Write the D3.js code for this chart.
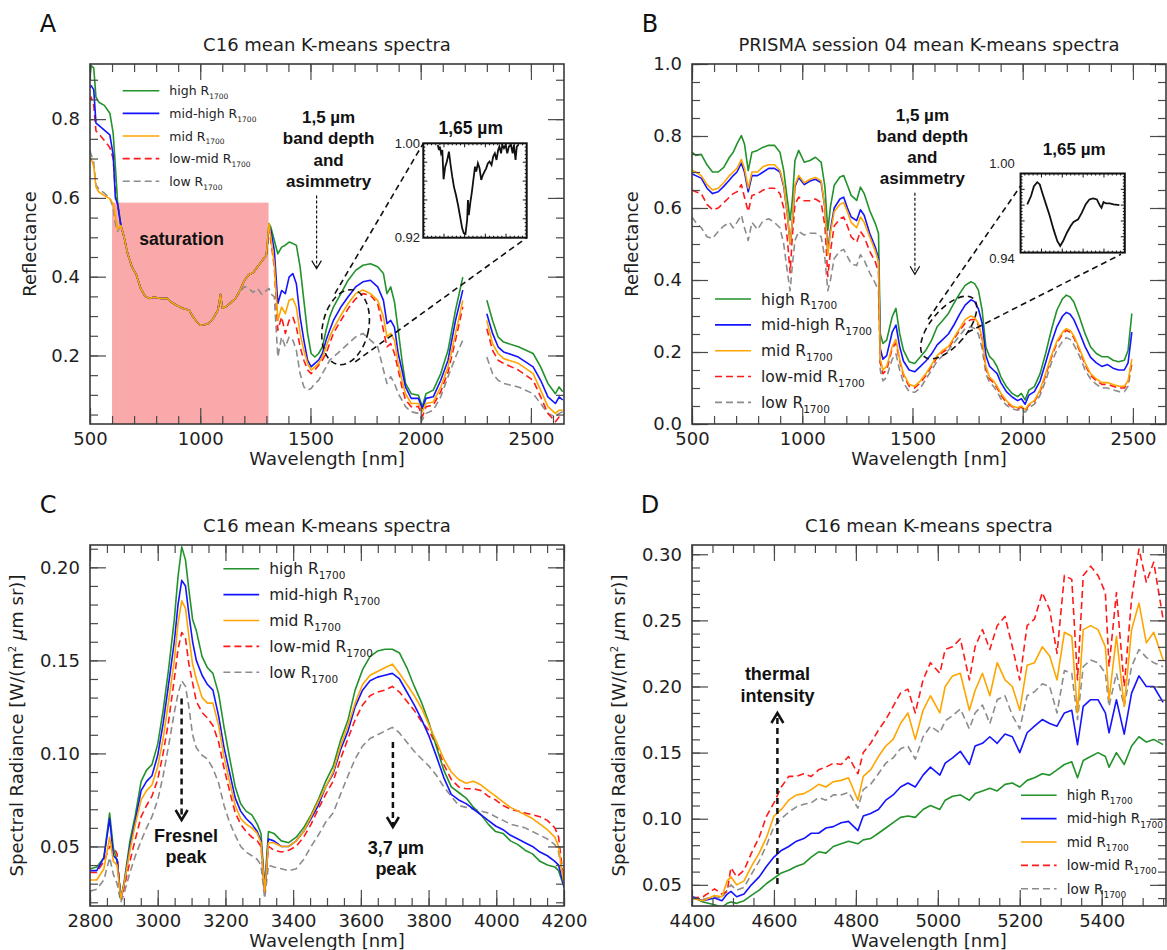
<!DOCTYPE html>
<html>
<head>
<meta charset="utf-8">
<script src="https://cdn.jsdelivr.net/npm/d3@7"></script>
<style>
  body { margin: 0; background: #fff; }
  svg { display: block; }
</style>
</head>
<body>
<svg id="chart" width="1167" height="950"></svg>
<script>

// ---------------- panel A : C16 reflectance ----------------
const wavelengthA = [500,505,517,527,540,565,590,605,615,625,
  640,655,670,690,710,730,750,770,790,820,
  850,870,890,920,950,965,985,1000,1020,1040,
  1060,1080,1092,1100,1120,1140,1160,1180,1200,1220,
  1240,1260,1280,1300,1312,
  1320,1336,1352,1369,1386,1403,1420,1436,1453,1470,
  1487,1503,1520,1537,1554,1571,1587,1604,1638,1671,
  1705,1738,1772,1805,1831,1847,1864,1881,1898,1915,
  1931,1957,1990,2007,2024,2057,2091,2124,2158,2191,
  2250,
  2300,2326,2351,2376,2443,2510,2544,2577,2611,2628,2644];
const highA = [0.906,0.936,0.93,0.856,0.843,0.835,0.815,0.765,0.68,0.59,
  0.53,0.50,0.46,0.425,0.405,0.37,0.35,0.345,0.348,0.345,
  0.345,0.335,0.328,0.32,0.315,0.30,0.285,0.277,0.278,0.282,
  0.295,0.315,0.355,0.32,0.325,0.335,0.345,0.365,0.39,0.405,
  0.41,0.425,0.44,0.455,0.535,
  0.526,0.492,0.458,0.475,0.48,0.488,0.484,0.48,0.425,0.34,
  0.256,0.205,0.196,0.205,0.222,0.264,0.298,0.323,0.357,0.391,
  0.416,0.429,0.433,0.425,0.408,0.357,0.374,0.336,0.264,0.188,
  0.129,0.103,0.099,0.07,0.103,0.112,0.154,0.213,0.315,0.399,
  null,
  0.34,0.289,0.247,0.234,0.222,0.205,0.171,0.129,0.103,0.12,0.108];
const midHighA = [0.88,0.885,0.875,0.79,0.784,0.772,0.76,0.71,0.60,0.585,
  0.53,0.50,0.46,0.425,0.405,0.37,0.35,0.345,0.348,0.345,
  0.345,0.335,0.328,0.32,0.315,0.30,0.285,0.277,0.278,0.282,
  0.295,0.315,0.355,0.32,0.325,0.335,0.345,0.365,0.39,0.405,
  0.41,0.425,0.44,0.455,0.525,
  0.518,0.467,0.332,0.365,0.357,0.399,0.408,0.382,0.298,0.239,
  0.188,0.171,0.18,0.188,0.205,0.239,0.264,0.289,0.323,0.349,
  0.374,0.387,0.391,0.374,0.34,0.281,0.289,0.272,0.205,0.163,
  0.12,0.091,0.091,0.065,0.091,0.095,0.137,0.188,0.289,0.366,
  null,
  0.306,0.256,0.222,0.209,0.196,0.171,0.137,0.095,0.078,0.095,0.087];
const midA = [0.695,0.70,0.68,0.628,0.615,0.606,0.598,0.585,0.555,0.52,
  0.53,0.50,0.46,0.425,0.405,0.37,0.35,0.345,0.348,0.345,
  0.345,0.335,0.328,0.32,0.315,0.30,0.285,0.277,0.278,0.282,
  0.295,0.315,0.355,0.32,0.325,0.335,0.345,0.365,0.39,0.405,
  0.41,0.425,0.44,0.455,0.535,
  0.501,0.433,0.289,0.323,0.306,0.34,0.344,0.323,0.256,0.213,
  0.18,0.163,0.171,0.18,0.196,0.222,0.247,0.268,0.302,0.332,
  0.357,0.366,0.357,0.34,0.298,0.247,0.256,0.239,0.18,0.137,
  0.103,0.078,0.078,0.057,0.078,0.082,0.12,0.171,0.256,0.34,
  null,
  0.289,0.23,0.205,0.192,0.18,0.154,0.112,0.07,0.053,0.061,0.061];
const lowMidA = [0.847,0.856,0.835,0.77,0.763,0.746,0.728,0.70,0.62,0.585,
  0.53,0.50,0.46,0.425,0.405,0.37,0.35,0.345,0.348,0.345,
  0.345,0.335,0.328,0.32,0.315,0.30,0.285,0.277,0.278,0.282,
  0.295,0.315,0.355,0.32,0.325,0.335,0.345,0.365,0.39,0.405,
  0.41,0.425,0.44,0.455,0.52,
  0.492,0.425,0.264,0.298,0.256,0.289,0.298,0.272,0.222,0.188,
  0.163,0.154,0.163,0.175,0.188,0.205,0.23,0.256,0.289,0.319,
  0.344,0.357,0.353,0.332,0.264,0.222,0.23,0.205,0.163,0.12,
  0.087,0.07,0.07,0.044,0.07,0.074,0.108,0.158,0.239,0.323,
  null,
  0.268,0.213,0.188,0.18,0.163,0.137,0.095,0.053,0.032,0.044,0.048];
const lowA = [0.72,0.71,0.69,0.632,0.623,0.612,0.60,0.575,0.535,0.515,
  0.53,0.50,0.46,0.425,0.405,0.37,0.35,0.345,0.348,0.345,
  0.345,0.335,0.328,0.32,0.315,0.30,0.285,0.277,0.278,0.282,
  0.295,0.315,0.355,0.32,0.325,0.335,0.345,0.36,0.375,0.37,
  0.36,0.37,0.355,0.365,0.37,
  0.357,0.349,0.196,0.247,0.222,0.247,0.239,0.213,0.154,0.12,
  0.112,0.116,0.129,0.137,0.154,0.171,0.188,0.196,0.213,0.23,
  0.247,0.256,0.239,0.222,0.163,0.129,0.146,0.129,0.103,0.087,
  0.07,0.057,0.053,0.036,0.053,0.061,0.095,0.146,0.196,0.239,
  null,
  0.196,0.154,0.137,0.129,0.12,0.103,0.078,0.053,0.044,0.053,0.057];

// zoom of the 1,65 um feature (inset of panel A)
const insetWlA = [1585,1588,1590,1593,1596,1599,1603,1607,1612,1616,
  1620,1624,1629,1634,1639,1644,1648,1652,1656,1658,
  1660,1664,1667,1671,1675,1678,1682,1686,1690,1694,
  1698,1702,1706,1710,1715,1719,1723,1727,1731,1734,
  1738,1741,1745,1749,1753,1757,1762,1766,1769,1773,1776,1780];
const insetA = [0.9986,0.9943,0.9972,0.9915,0.9943,0.9695,0.9802,0.9845,0.9929,0.9816,
  0.9717,0.9633,0.9562,0.9477,0.9378,0.9279,0.9237,0.9231,0.9350,0.9519,
  0.9392,0.9505,0.9576,0.9689,0.9802,0.9760,0.9830,0.9788,0.9689,0.9731,
  0.9760,0.9788,0.9830,0.9845,0.9816,0.9887,0.9915,0.9859,0.9943,0.9972,
  0.9915,0.9986,0.9958,0.9986,0.9915,0.9972,0.9986,0.9915,0.9986,0.9859,0.9972,0.9986];

// ---------------- panel B : PRISMA reflectance ----------------
const wavelengthB = [500,517,542,568,593,619,644,670,687,704,
  724,738,755,772,797,823,848,874,899,916,
  933,945,955,967,984,1009,1035,1060,1086,1103,
  1116,1128,1145,1171,1188,1205,1222,1247,1264,1281,
  1306,1332,1346,1354,1366,1383,1408,1425,1442,1459,
  1485,1510,1536,1561,1587,1612,1638,1663,1688,1714,
  1739,1765,1782,1799,1816,1833,1850,1867,1884,1901,
  1926,1952,1977,1994,2011,2028,2053,2079,2104,2130,
  2155,2181,2198,2215,2232,2257,2283,2308,2334,2359,
  2385,2410,2435,2461,2478,2495];
const highB = [0.755,0.746,0.749,0.72,0.70,0.70,0.713,0.741,0.755,0.778,
  0.801,0.778,0.704,0.755,0.76,0.769,0.774,0.774,0.755,0.704,
  0.621,0.566,0.621,0.732,0.76,0.727,0.732,0.741,0.727,0.658,
  0.538,0.603,0.663,0.686,0.69,0.663,0.635,0.621,0.658,0.64,
  0.593,0.556,0.529,0.251,0.224,0.233,0.298,0.321,0.251,0.205,
  0.173,0.168,0.187,0.205,0.233,0.27,0.288,0.307,0.335,0.362,
  0.385,0.395,0.39,0.372,0.316,0.214,0.187,0.177,0.159,0.131,
  0.104,0.085,0.076,0.085,0.067,0.094,0.104,0.14,0.196,0.261,
  0.316,0.348,0.358,0.353,0.339,0.298,0.251,0.214,0.196,0.187,
  0.187,0.177,0.173,0.177,0.205,0.307];
const midHighB = [0.695,0.69,0.683,0.655,0.64,0.645,0.66,0.678,0.69,0.70,
  0.725,0.70,0.645,0.69,0.69,0.70,0.71,0.71,0.70,0.66,
  0.58,0.50,0.56,0.66,0.685,0.665,0.675,0.68,0.67,0.60,
  0.48,0.54,0.60,0.625,0.63,0.60,0.575,0.565,0.595,0.58,
  0.53,0.49,0.46,0.21,0.18,0.19,0.255,0.275,0.215,0.175,
  0.15,0.145,0.16,0.175,0.195,0.22,0.235,0.25,0.275,0.305,
  0.33,0.345,0.34,0.32,0.28,0.19,0.16,0.15,0.14,0.115,
  0.09,0.075,0.065,0.07,0.055,0.08,0.09,0.12,0.17,0.225,
  0.27,0.30,0.31,0.305,0.29,0.255,0.215,0.185,0.17,0.16,
  0.165,0.155,0.15,0.15,0.17,0.255];
const midB = [0.705,0.70,0.69,0.665,0.65,0.655,0.67,0.69,0.70,0.71,
  0.735,0.71,0.655,0.70,0.70,0.715,0.72,0.72,0.705,0.665,
  0.58,0.50,0.56,0.665,0.69,0.67,0.68,0.685,0.675,0.60,
  0.47,0.53,0.59,0.61,0.615,0.59,0.56,0.545,0.575,0.56,
  0.52,0.48,0.45,0.18,0.15,0.16,0.215,0.235,0.18,0.14,
  0.11,0.105,0.12,0.14,0.165,0.19,0.205,0.215,0.24,0.265,
  0.29,0.30,0.295,0.28,0.24,0.16,0.13,0.12,0.105,0.085,
  0.065,0.05,0.045,0.05,0.04,0.055,0.065,0.095,0.14,0.19,
  0.23,0.255,0.265,0.26,0.245,0.21,0.17,0.14,0.125,0.115,
  0.115,0.11,0.105,0.105,0.12,0.18];
const lowMidB = [0.65,0.645,0.64,0.61,0.595,0.60,0.615,0.63,0.64,0.645,
  0.665,0.63,0.59,0.635,0.64,0.65,0.655,0.655,0.64,0.60,
  0.51,0.42,0.52,0.61,0.63,0.62,0.62,0.625,0.615,0.55,
  0.41,0.48,0.55,0.57,0.575,0.55,0.52,0.505,0.535,0.52,
  0.48,0.45,0.42,0.17,0.14,0.15,0.21,0.225,0.175,0.135,
  0.105,0.10,0.115,0.135,0.16,0.185,0.20,0.21,0.235,0.26,
  0.28,0.29,0.29,0.275,0.235,0.155,0.125,0.115,0.10,0.08,
  0.06,0.048,0.042,0.047,0.037,0.052,0.062,0.09,0.135,0.185,
  0.225,0.25,0.26,0.255,0.24,0.205,0.165,0.135,0.12,0.11,
  0.11,0.105,0.10,0.10,0.115,0.175];
const lowB = [0.575,0.56,0.545,0.52,0.515,0.535,0.55,0.56,0.545,0.56,
  0.58,0.545,0.51,0.56,0.54,0.565,0.57,0.56,0.545,0.50,
  0.42,0.37,0.44,0.51,0.535,0.525,0.53,0.53,0.52,0.46,
  0.37,0.40,0.46,0.48,0.485,0.465,0.445,0.44,0.47,0.455,
  0.42,0.39,0.37,0.15,0.12,0.13,0.18,0.195,0.15,0.115,
  0.09,0.088,0.10,0.125,0.15,0.175,0.19,0.205,0.225,0.245,
  0.265,0.27,0.265,0.25,0.21,0.14,0.115,0.105,0.09,0.07,
  0.052,0.042,0.038,0.042,0.033,0.045,0.055,0.08,0.12,0.17,
  0.205,0.23,0.24,0.235,0.22,0.19,0.15,0.125,0.11,0.10,
  0.10,0.095,0.09,0.09,0.105,0.165];

const insetWlB = [1566,1575,1582,1590,1596,1602,1611,1620,1629,1638,
  1645,1652,1661,1670,1677,1688,1697,1706,1715,1724,
  1733,1740,1744,1749,1755,1764,1773,1787];
const insetB = [0.9766,0.9829,0.9904,0.9934,0.9917,0.9854,0.9766,0.9677,0.9576,0.9488,
  0.9450,0.9488,0.9551,0.9602,0.9632,0.9652,0.9703,0.9766,0.9803,0.9811,
  0.9803,0.9758,0.9740,0.9783,0.9773,0.9773,0.9766,0.9760];

// ---------------- panel C : C16 radiance 2.8-4.2 um ----------------
const wavelengthC = [2800,2820,2841,2858,2869,2880,2891,2901,2918,2934,
  2951,2967,2983,3000,3016,3032,3049,3060,3071,3082,
  3092,3103,3114,3131,3147,3163,3180,3196,3212,3229,
  3245,3261,3278,3294,3305,3316,3327,3343,3365,3387,
  3409,3431,3453,3474,3496,3518,3540,3562,3583,3605,
  3627,3649,3671,3693,3714,3736,3758,3780,3802,3824,
  3845,3867,3889,3911,3933,3955,3976,3998,4020,4042,
  4064,4085,4107,4129,4151,4173,4184,4195,4200];
const highC = [0.038,0.039,0.044,0.068,0.049,0.042,0.022,0.031,0.053,0.067,
  0.085,0.091,0.094,0.105,0.123,0.145,0.172,0.195,0.211,0.204,
  0.188,0.172,0.166,0.152,0.146,0.143,0.132,0.114,0.098,0.082,
  0.073,0.069,0.067,0.062,0.057,0.028,0.058,0.057,0.053,0.052,
  0.055,0.06,0.067,0.075,0.085,0.093,0.107,0.118,0.134,0.145,
  0.152,0.155,0.156,0.156,0.154,0.146,0.136,0.127,0.116,0.103,
  0.091,0.082,0.079,0.076,0.071,0.067,0.062,0.058,0.057,0.053,
  0.051,0.048,0.046,0.042,0.040,0.039,0.037,0.031,0.029];
const midHighC = [0.037,0.037,0.044,0.065,0.045,0.043,0.022,0.03,0.05,0.064,
  0.08,0.085,0.088,0.099,0.116,0.137,0.16,0.18,0.193,0.19,
  0.175,0.16,0.15,0.142,0.137,0.134,0.12,0.103,0.09,0.076,
  0.069,0.065,0.062,0.058,0.053,0.027,0.054,0.053,0.05,0.05,
  0.053,0.058,0.065,0.072,0.082,0.089,0.102,0.112,0.125,0.134,
  0.139,0.141,0.142,0.143,0.14,0.133,0.126,0.118,0.109,0.098,
  0.087,0.078,0.075,0.073,0.07,0.067,0.064,0.061,0.059,0.056,
  0.054,0.052,0.05,0.047,0.045,0.042,0.04,0.032,0.028];
const midC = [0.032,0.032,0.038,0.055,0.042,0.04,0.022,0.03,0.048,0.062,
  0.075,0.08,0.083,0.093,0.108,0.128,0.15,0.17,0.182,0.178,
  0.163,0.148,0.14,0.13,0.127,0.127,0.115,0.098,0.085,0.072,
  0.065,0.062,0.06,0.057,0.052,0.026,0.052,0.052,0.05,0.05,
  0.053,0.058,0.066,0.074,0.082,0.09,0.104,0.115,0.127,0.137,
  0.142,0.144,0.146,0.148,0.143,0.137,0.131,0.124,0.115,0.106,
  0.097,0.09,0.086,0.084,0.085,0.083,0.08,0.077,0.074,0.071,
  0.069,0.067,0.065,0.062,0.059,0.055,0.05,0.035,0.03];
const lowMidC = [0.036,0.036,0.042,0.05,0.05,0.046,0.022,0.028,0.042,0.054,
  0.066,0.072,0.077,0.086,0.1,0.117,0.14,0.156,0.165,0.162,
  0.148,0.138,0.128,0.122,0.119,0.115,0.106,0.092,0.08,0.068,
  0.062,0.058,0.055,0.053,0.05,0.025,0.05,0.048,0.047,0.048,
  0.05,0.055,0.062,0.07,0.078,0.085,0.097,0.108,0.118,0.126,
  0.131,0.133,0.134,0.136,0.133,0.128,0.123,0.117,0.112,0.104,
  0.094,0.086,0.082,0.081,0.081,0.08,0.077,0.075,0.072,0.07,
  0.069,0.068,0.067,0.066,0.064,0.06,0.055,0.038,0.03];
const lowC = [0.026,0.027,0.032,0.044,0.035,0.03,0.02,0.025,0.036,0.045,
  0.053,0.06,0.066,0.075,0.088,0.104,0.122,0.132,0.139,0.136,
  0.125,0.11,0.103,0.099,0.097,0.092,0.084,0.072,0.063,0.056,
  0.05,0.047,0.045,0.043,0.04,0.022,0.04,0.039,0.038,0.037,
  0.038,0.043,0.05,0.056,0.063,0.068,0.078,0.088,0.097,0.104,
  0.108,0.11,0.112,0.114,0.111,0.106,0.101,0.097,0.093,0.088,
  0.082,0.077,0.072,0.071,0.07,0.069,0.068,0.066,0.064,0.062,
  0.061,0.06,0.058,0.056,0.054,0.051,0.047,0.036,0.03];

// ---------------- panel D : C16 radiance 4.4-5.5 um ----------------
const wavelengthD = [4400,4427,4455,4473,4486,4495,4509,4527,4545,4564,
  4582,4600,4618,4636,4655,4673,4691,4709,4727,4745,
  4764,4782,4805,4818,4836,4855,4873,4891,4909,4927,
  4945,4964,4982,5005,5018,5036,5055,5077,5091,5109,
  5127,5145,5164,5182,5200,5218,5236,5255,5273,5291,
  5309,5327,5341,5355,5373,5391,5409,5418,5436,5455,
  5473,5491,5509,5527,5550];
const highD = [0.041,0.037,0.035,0.033,0.036,0.037,0.036,0.038,0.042,0.046,
  0.051,0.055,0.059,0.061,0.064,0.066,0.071,0.075,0.074,0.079,
  0.081,0.083,0.081,0.084,0.085,0.089,0.093,0.097,0.101,0.102,
  0.101,0.107,0.11,0.107,0.114,0.117,0.118,0.114,0.119,0.121,
  0.123,0.121,0.126,0.127,0.124,0.129,0.131,0.134,0.133,0.137,
  0.141,0.143,0.131,0.144,0.147,0.15,0.147,0.139,0.15,0.141,
  0.155,0.162,0.158,0.16,0.156];
const midHighD = [0.041,0.038,0.040,0.038,0.043,0.045,0.041,0.043,0.05,0.056,
  0.064,0.071,0.076,0.079,0.083,0.085,0.089,0.089,0.093,0.094,
  0.097,0.098,0.091,0.102,0.104,0.107,0.114,0.118,0.124,0.127,
  0.124,0.133,0.139,0.133,0.142,0.146,0.151,0.141,0.155,0.157,
  0.162,0.157,0.164,0.162,0.15,0.165,0.17,0.175,0.172,0.17,
  0.18,0.182,0.156,0.185,0.19,0.19,0.18,0.165,0.19,0.164,
  0.195,0.208,0.2,0.2,0.188];
const midD = [0.04,0.038,0.042,0.041,0.053,0.056,0.05,0.053,0.064,0.074,
  0.086,0.102,0.107,0.114,0.118,0.119,0.122,0.126,0.124,0.128,
  0.129,0.131,0.114,0.132,0.137,0.147,0.155,0.16,0.172,0.18,
  0.16,0.182,0.193,0.18,0.2,0.208,0.21,0.182,0.197,0.21,
  0.193,0.218,0.205,0.2,0.182,0.216,0.218,0.23,0.223,0.205,
  0.241,0.238,0.18,0.243,0.246,0.243,0.23,0.19,0.238,0.185,
  0.243,0.263,0.233,0.241,0.22];
const lowMidD = [0.04,0.041,0.047,0.043,0.045,0.063,0.056,0.061,0.074,0.086,
  0.102,0.112,0.124,0.132,0.132,0.134,0.132,0.137,0.139,0.142,
  0.141,0.147,0.134,0.15,0.157,0.167,0.175,0.185,0.195,0.198,
  0.18,0.205,0.218,0.21,0.228,0.23,0.236,0.205,0.23,0.243,
  0.228,0.246,0.253,0.23,0.205,0.246,0.251,0.271,0.258,0.225,
  0.284,0.281,0.205,0.284,0.291,0.284,0.271,0.215,0.271,0.2,
  0.266,0.304,0.279,0.294,0.251];
const lowD = [0.041,0.039,0.041,0.04,0.046,0.05,0.046,0.048,0.058,0.068,
  0.08,0.094,0.1,0.105,0.109,0.111,0.112,0.116,0.114,0.118,
  0.118,0.12,0.108,0.122,0.126,0.134,0.142,0.146,0.153,0.155,
  0.145,0.162,0.17,0.165,0.174,0.178,0.183,0.168,0.18,0.186,
  0.172,0.19,0.193,0.178,0.168,0.193,0.196,0.202,0.2,0.18,
  0.212,0.21,0.175,0.215,0.22,0.218,0.21,0.185,0.21,0.185,
  0.215,0.228,0.222,0.218,0.215];

// ---------------- tick values ----------------
const xTicksAB = [500, 1000, 1500, 2000, 2500];
const yTicksA = [0.2, 0.4, 0.6, 0.8];
const yTicksB = [0.0, 0.2, 0.4, 0.6, 0.8, 1.0];
const xTicksC = [2800, 3000, 3200, 3400, 3600, 3800, 4000, 4200];
const yTicksC = [0.05, 0.10, 0.15, 0.20];
const xTicksD = [4400, 4600, 4800, 5000, 5200, 5400];
const yTicksD = [0.05, 0.10, 0.15, 0.20, 0.25, 0.30];

// the five K-means classes
const classes = [
    { key: 'high',    label: 'high',     color: '#22922a', dash: null },
    { key: 'midHigh', label: 'mid-high', color: '#1414ff', dash: null },
    { key: 'mid',     label: 'mid',      color: '#ffa500', dash: null },
    { key: 'lowMid',  label: 'low-mid',  color: '#ff1a1a', dash: '7,4' },
    { key: 'low',     label: 'low',      color: '#8c8c8c', dash: '7,4' }
];
const drawOrder = ['low', 'lowMid', 'high', 'midHigh', 'mid'];

const TICK_FONT = "'DejaVu Sans', sans-serif";
const BOLD_FONT = "'Liberation Sans', Arial, sans-serif";

let svg = d3.select( '#chart' );

/** Draws one framed panel with mirrored inward ticks, curves and a legend.
 *  Returns the group and scales so annotations can be added on top. */
function createPanel( svg, cfg ) {
    let width = cfg.width, height = cfg.height;

    let g = svg.append( 'g' )
        .attr( 'id', 'panel-' + cfg.id )
        .attr( 'transform', `translate(${cfg.left},${cfg.top})` );

    let x = d3.scaleLinear().domain( cfg.xDomain ).range( [0, width] );
    let y = d3.scaleLinear().domain( cfg.yDomain ).range( [height, 0] );

    g.append( 'clipPath' ).attr( 'id', 'clip-' + cfg.id )
        .append( 'rect' ).attr( 'width', width ).attr( 'height', height );

    // things that sit under the spectra (saturation band)
    if (cfg.under) cfg.under( g, x, y );

    // spectra
    let line = d3.line()
        .defined( function(d) {return d[1] !== null;} )
        .x( function(d) {return x(d[0]);} )
        .y( function(d) {return y(d[1]);} );

    let curves = g.append( 'g' ).attr( 'clip-path', `url(#clip-${cfg.id})` );
    drawOrder.forEach( function(key) {
        let c = classes.find( function(d) {return d.key === key;} );
        let pts = cfg.wavelength.map( function(w, i) {return [w, cfg.values[key][i]];} );
        curves.append( 'path' )
            .attr( 'd', line(pts) )
            .attr( 'fill', 'none' )
            .attr( 'stroke', c.color )
            .attr( 'stroke-width', 1.6 )
            .attr( 'stroke-linejoin', 'round' )
            .attr( 'stroke-dasharray', c.dash );
    } );

    // ticks on all four sides, pointing inward
    function side( axis, transform, values, size, format, pad ) {
        let a = axis.tickValues( values ).tickSize( -size ).tickPadding( pad || 0 )
            .tickFormat( format || '' );
        let s = g.append( 'g' ).attr( 'transform', transform ).call( a );
        s.select( '.domain' ).remove();
        s.selectAll( 'line' ).attr( 'stroke', '#4a4a4a' ).attr( 'stroke-width', 1.2 );
        s.selectAll( 'text' )
            .attr( 'font-family', TICK_FONT )
            .attr( 'font-size', 18 )
            .attr( 'fill', '#1e1e1e' );
        return s;
    }
    side( d3.axisBottom(x), `translate(0,${height})`, cfg.xMinor, 8 );
    side( d3.axisBottom(x), `translate(0,${height})`, cfg.xMajor, 16, d3.format('d'), 8 );
    side( d3.axisTop(x), 'translate(0,0)', cfg.xMinor, 8 );
    side( d3.axisTop(x), 'translate(0,0)', cfg.xMajor, 16 );
    side( d3.axisLeft(y), 'translate(0,0)', cfg.yMinor, 8 );
    side( d3.axisLeft(y), 'translate(0,0)', cfg.yMajor, 16, d3.format(cfg.yFormat), 10 );
    side( d3.axisRight(y), `translate(${width},0)`, cfg.yMinor, 8 );
    side( d3.axisRight(y), `translate(${width},0)`, cfg.yMajor, 16 );

    // frame
    g.append( 'rect' )
        .attr( 'width', width ).attr( 'height', height )
        .attr( 'fill', 'none' )
        .attr( 'stroke', '#3a3a3a' )
        .attr( 'stroke-width', 1.6 );

    // panel letter and title
    g.append( 'text' )
        .text( cfg.letter )
        .attr( 'x', -42 ).attr( 'y', -32 )
        .attr( 'text-anchor', 'middle' )
        .attr( 'font-family', TICK_FONT )
        .attr( 'font-size', 24 )
        .attr( 'fill', '#111' );

    g.append( 'text' )
        .text( cfg.title )
        .attr( 'x', width / 2 ).attr( 'y', -13.5 )
        .attr( 'text-anchor', 'middle' )
        .attr( 'font-family', TICK_FONT )
        .attr( 'font-size', 18 )
        .attr( 'fill', '#1e1e1e' );

    // axis labels
    g.append( 'text' )
        .text( 'Wavelength [nm]' )
        .attr( 'x', width / 2 ).attr( 'y', height + 40.5 )
        .attr( 'text-anchor', 'middle' )
        .attr( 'font-family', TICK_FONT )
        .attr( 'font-size', 18 )
        .attr( 'fill', '#1e1e1e' );

    let yl = g.append( 'text' )
        .attr( 'transform', `translate(${-cfg.yLabelOffset},${height / 2}) rotate(-90)` )
        .attr( 'dy', '0.35em' )
        .attr( 'text-anchor', 'middle' )
        .attr( 'font-family', TICK_FONT )
        .attr( 'font-size', 18 )
        .attr( 'fill', '#1e1e1e' );
    if (cfg.radiance) {
        yl.append( 'tspan' ).text( 'Spectral Radiance [W/(m' );
        yl.append( 'tspan' ).attr( 'font-size', 10 ).attr( 'dy', -7 ).text( '2' );
        yl.append( 'tspan' ).attr( 'dy', 7 ).text( ' ' );
        yl.append( 'tspan' ).attr( 'font-style', 'italic' ).text( 'μ' );
        yl.append( 'tspan' ).text( 'm sr)]' );
    } else {
        yl.text( 'Reflectance' );
    }

    // legend
    let lg = cfg.legend;
    classes.forEach( function(c, i) {
        let yy = lg.y0 + i * lg.dy;
        g.append( 'line' )
            .attr( 'x1', lg.x1 ).attr( 'x2', lg.x2 )
            .attr( 'y1', yy ).attr( 'y2', yy )
            .attr( 'stroke', c.color )
            .attr( 'stroke-width', 1.6 )
            .attr( 'stroke-dasharray', c.dash );
        let t = g.append( 'text' )
            .attr( 'x', lg.tx ).attr( 'y', yy + lg.font * 0.36 )
            .attr( 'font-family', TICK_FONT )
            .attr( 'font-size', lg.font )
            .attr( 'fill', '#222' );
        t.append( 'tspan' ).text( c.label + ' R' );
        t.append( 'tspan' ).attr( 'font-size', lg.sub ).attr( 'dy', lg.font * 0.3 ).text( '1700' );
    } );

    return { g: g, x: x, y: y };
}

// ---------------- annotation helpers (absolute page pixels) ----------------
function boldLines( lines, cx, cy0, step, size ) {
    lines.forEach( function(s, i) {
        svg.append( 'text' )
            .text( s )
            .attr( 'x', cx ).attr( 'y', cy0 + i * step + size * 0.36 )
            .attr( 'text-anchor', 'middle' )
            .attr( 'font-family', BOLD_FONT )
            .attr( 'font-weight', 'bold' )
            .attr( 'font-size', size )
            .attr( 'fill', '#111' );
    } );
}

function dashedArrow( x0, yFrom, yTo, w, dash, head ) {
    svg.append( 'line' )
        .attr( 'x1', x0 ).attr( 'x2', x0 )
        .attr( 'y1', yFrom ).attr( 'y2', yTo )
        .attr( 'stroke', '#111' )
        .attr( 'stroke-width', w )
        .attr( 'stroke-dasharray', dash );
    let dir = yTo > yFrom ? -1 : 1; // head opens back toward the tail
    svg.append( 'path' )
        .attr( 'd', `M${x0 - head * 0.6},${yTo + dir * head} L${x0},${yTo} L${x0 + head * 0.6},${yTo + dir * head}` )
        .attr( 'fill', 'none' )
        .attr( 'stroke', '#111' )
        .attr( 'stroke-width', w );
}

function dashedLine( x1, y1, x2, y2 ) {
    svg.append( 'line' )
        .attr( 'x1', x1 ).attr( 'y1', y1 ).attr( 'x2', x2 ).attr( 'y2', y2 )
        .attr( 'stroke', '#111' )
        .attr( 'stroke-width', 1.6 )
        .attr( 'stroke-dasharray', '6,4' );
}

function dashedEllipse( cx, cy, rx, ry, angle ) {
    svg.append( 'ellipse' )
        .attr( 'transform', `translate(${cx},${cy}) rotate(${angle})` )
        .attr( 'rx', rx ).attr( 'ry', ry )
        .attr( 'fill', 'none' )
        .attr( 'stroke', '#111' )
        .attr( 'stroke-width', 1.6 )
        .attr( 'stroke-dasharray', '6,4' );
}

/** Small zoom box showing the 1,65 um absorption */
function drawInset( box, yDomain, wl, vals, id ) {
    let w = box.x2 - box.x1, h = box.y2 - box.y1;
    let g = svg.append( 'g' ).attr( 'transform', `translate(${box.x1},${box.y1})` );
    let x = d3.scaleLinear().domain( [1550, 1800] ).range( [0, w] );
    let y = d3.scaleLinear().domain( yDomain ).range( [h, 0] );

    g.append( 'rect' ).attr( 'width', w ).attr( 'height', h ).attr( 'fill', '#fff' );
    g.append( 'clipPath' ).attr( 'id', id )
        .append( 'rect' ).attr( 'width', w ).attr( 'height', h );

    // fine ticks along the frame
    let tk = g.append( 'g' ).attr( 'stroke', '#111' ).attr( 'stroke-width', 1 );
    d3.range( 1, 25 ).forEach( function(i) {
        let len = i % 5 === 0 ? 4 : 2;
        let px = i * w / 25, py = i * h / 25;
        tk.append( 'line' ).attr( 'x1', px ).attr( 'x2', px ).attr( 'y1', h ).attr( 'y2', h - len );
        tk.append( 'line' ).attr( 'x1', px ).attr( 'x2', px ).attr( 'y1', 0 ).attr( 'y2', len );
        tk.append( 'line' ).attr( 'y1', py ).attr( 'y2', py ).attr( 'x1', 0 ).attr( 'x2', len );
        tk.append( 'line' ).attr( 'y1', py ).attr( 'y2', py ).attr( 'x1', w ).attr( 'x2', w - len );
    } );

    let line = d3.line()
        .x( function(d, i) {return x(wl[i]);} )
        .y( function(d) {return y(d);} );
    g.append( 'path' )
        .attr( 'clip-path', `url(#${id})` )
        .attr( 'd', line(vals) )
        .attr( 'fill', 'none' )
        .attr( 'stroke', '#111' )
        .attr( 'stroke-width', 1.8 );

    g.append( 'rect' ).attr( 'width', w ).attr( 'height', h )
        .attr( 'fill', 'none' ).attr( 'stroke', '#111' ).attr( 'stroke-width', 2 );
}

function smallLabel( s, x0, cy, anchor ) {
    svg.append( 'text' )
        .text( s )
        .attr( 'x', x0 ).attr( 'y', cy + 4.6 )
        .attr( 'text-anchor', anchor )
        .attr( 'font-family', BOLD_FONT )
        .attr( 'font-size', 13 )
        .attr( 'fill', '#222' );
}

// ---------------- build the figure ----------------
let saturation = { from: 600, to: 1310, top: 0.588 };

createPanel( svg, {
    id: 'A', letter: 'A', title: 'C16 mean K-means spectra',
    left: 90, top: 64, width: 474, height: 360,
    xDomain: [500, 2650], yDomain: [0.026, 0.94],
    xMajor: xTicksAB, xMinor: d3.range( 500, 2651, 100 ),
    yMajor: yTicksA, yMinor: d3.range( 0.05, 0.93, 0.05 ), yFormat: '.1f',
    yLabelOffset: 60,
    wavelength: wavelengthA,
    values: { high: highA, midHigh: midHighA, mid: midA, lowMid: lowMidA, low: lowA },
    legend: { x1: 32.7, x2: 69.3, tx: 79.3, y0: 26.7, dy: 22.65, font: 12.5, sub: 7.5 },
    under: function(g, x, y) {
        g.append( 'rect' )
            .attr( 'x', x(saturation.from) )
            .attr( 'y', y(saturation.top) )
            .attr( 'width', x(saturation.to) - x(saturation.from) )
            .attr( 'height', y.range()[0] - y(saturation.top) )
            .attr( 'fill', '#f9a9a9' );
    }
} );

createPanel( svg, {
    id: 'B', letter: 'B', title: 'PRISMA session 04 mean K-means spectra',
    left: 692, top: 64, width: 474, height: 360,
    xDomain: [500, 2650], yDomain: [0, 1],
    xMajor: xTicksAB, xMinor: d3.range( 500, 2651, 100 ),
    yMajor: yTicksB, yMinor: d3.range( 0, 1.01, 0.05 ), yFormat: '.1f',
    yLabelOffset: 60,
    wavelength: wavelengthB,
    values: { high: highB, midHigh: midHighB, mid: midB, lowMid: lowMidB, low: lowB },
    legend: { x1: 23, x2: 59, tx: 69, y0: 235, dy: 25.85, font: 15.5, sub: 10.5 }
} );

createPanel( svg, {
    id: 'C', letter: 'C', title: 'C16 mean K-means spectra',
    left: 90, top: 545, width: 474, height: 361,
    xDomain: [2800, 4200], yDomain: [0.018, 0.212],
    xMajor: xTicksC, xMinor: d3.range( 2800, 4201, 50 ),
    yMajor: yTicksC, yMinor: d3.range( 0.02, 0.2125, 0.01 ), yFormat: '.2f',
    yLabelOffset: 73, radiance: true,
    wavelength: wavelengthC,
    values: { high: highC, midHigh: midHighC, mid: midC, lowMid: lowMidC, low: lowC },
    legend: { x1: 133.4, x2: 169.2, tx: 179.2, y0: 23.7, dy: 25.9, font: 15.5, sub: 10.5 }
} );

createPanel( svg, {
    id: 'D', letter: 'D', title: 'C16 mean K-means spectra',
    left: 692, top: 545, width: 474, height: 361,
    xDomain: [4400, 5557], yDomain: [0.034, 0.307],
    xMajor: xTicksD, xMinor: d3.range( 4400, 5558, 50 ),
    yMajor: yTicksD, yMinor: d3.range( 0.04, 0.307, 0.01 ), yFormat: '.2f',
    yLabelOffset: 73, radiance: true,
    wavelength: wavelengthD,
    values: { high: highD, midHigh: midHighD, mid: midD, lowMid: lowMidD, low: lowD },
    legend: { x1: 329, x2: 364.6, tx: 374.7, y0: 250.2, dy: 23.4, font: 13.5, sub: 9 }
} );

// ---- panel A annotations ----
boldLines( ['saturation'], 181.6, 238.7, 0, 17.5 );
boldLines( ['1,5 µm', 'band depth', 'and', 'asimmetry'], 328.6, 117.2, 21.1, 17 );
dashedArrow( 316.6, 195.4, 268.6, 1.2, '3,2', 8 );
dashedEllipse( 345.6, 327.2, 23, 38, 12 );
dashedLine( 334.9, 293.6, 423.3, 143.3 );
dashedLine( 355.2, 361.8, 526.7, 237.7 );
drawInset( { x1: 423.3, y1: 143.3, x2: 526.7, y2: 237.7 }, [0.92, 1.00], insetWlA, insetA, 'insetA' );
boldLines( ['1,65 µm'], 470.7, 127.3, 0, 17.5 );
smallLabel( '1.00', 420, 143.3, 'end' );
smallLabel( '0.92', 420, 237.7, 'end' );

// ---- panel B annotations ----
boldLines( ['1,5 µm', 'band depth', 'and', 'asimmetry'], 922.4, 114.6, 21.2, 17 );
dashedArrow( 914.9, 192.8, 274.3, 1.2, '3,2', 8 );
dashedEllipse( 948.7, 327.5, 18, 38, 40 );
dashedLine( 928.1, 319.2, 1021.7, 184.4 );
dashedLine( 967.4, 332.5, 1121, 254.3 );
drawInset( { x1: 1020.6, y1: 173.5, x2: 1124.8, y2: 252.6 }, [0.94, 1.00], insetWlB, insetB, 'insetB' );
boldLines( ['1,65 µm'], 1074.2, 148.5, 0, 17 );
smallLabel( '1.00', 1002, 163.4, 'middle' );
smallLabel( '0.94', 1002, 258.1, 'middle' );

// ---- panel C annotations ----
boldLines( ['Fresnel', 'peak'], 186, 836, 20.7, 18 );
dashedArrow( 181.6, 698.6, 820, 2.5, '6,4', 10 );
boldLines( ['3,7 µm', 'peak'], 395.9, 848, 21, 18 );
dashedArrow( 392.9, 742, 827, 2.5, '6,4', 10 );

// ---- panel D annotations ----
boldLines( ['thermal', 'intensity'], 777.4, 674, 21.4, 18 );
dashedArrow( 777.4, 884, 713, 2.5, '6,4', 10 );

</script>
</body>
</html>
